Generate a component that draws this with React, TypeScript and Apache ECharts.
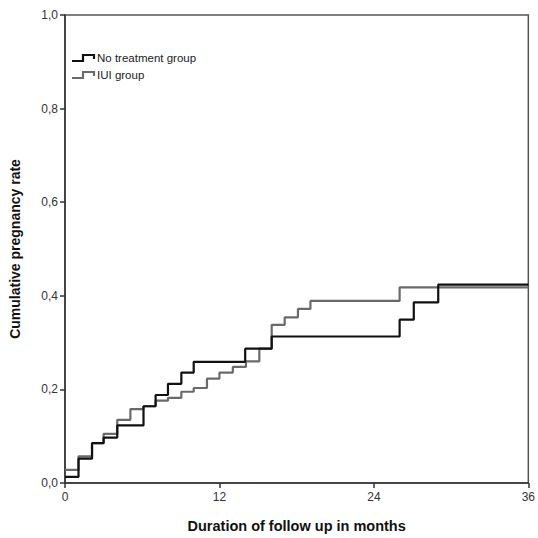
import React, { useEffect, useRef } from "react";
import * as echarts from "echarts";

const xTicks = [0, 12, 24, 36];
const yTicks = [0, 0.2, 0.4, 0.6, 0.8, 1.0];

const noTreatmentTimes = [0, 1.05, 2.1, 3.0, 4.06, 6.1, 7.04, 8.0, 9.04, 10.0, 14.0, 16.06, 26.0, 27.1, 29.0, 36];
const noTreatmentRates = [0.013, 0.052, 0.085, 0.097, 0.123, 0.164, 0.188, 0.212, 0.236, 0.259, 0.287, 0.313, 0.349, 0.386, 0.424, 0.424];

const iuiTimes = [0, 1.05, 2.1, 3.0, 4.06, 5.08, 6.1, 7.04, 8.0, 9.04, 10.0, 11.03, 12.0, 13.04, 14.06, 15.1, 16.06, 17.07, 18.1, 19.07, 26.0, 36];
const iuiRates = [0.028, 0.057, 0.085, 0.105, 0.135, 0.158, 0.164, 0.176, 0.182, 0.195, 0.203, 0.223, 0.236, 0.248, 0.26, 0.287, 0.338, 0.354, 0.372, 0.389, 0.418, 0.418];

const seriesNames = ["No treatment group", "IUI group"];
const seriesColors = ["#111111", "#6a6a6a"];

const FONT = "'Liberation Sans', Arial, sans-serif";

export default function App() {
  const ref = useRef<HTMLDivElement>(null);
  useEffect(() => {
    if (!ref.current) return;
    const chart = echarts.init(ref.current, undefined, { renderer: "svg" });
    const pair = (t: number[], v: number[]) => t.map((x, i) => [x, v[i]]);
    const legendItem = (i: number, y: number) => [
      {
        type: "polyline",
        shape: { points: [[72, y + 3], [83, y + 3], [83, y - 3], [94, y - 3], [94, y + 1]] },
        style: { stroke: seriesColors[i], lineWidth: 2.2, fill: "none" },
      },
      {
        type: "text",
        x: 97,
        y: y,
        style: {
          text: seriesNames[i],
          font: `11.5px ${FONT}`,
          fill: "#222",
          textVerticalAlign: "middle",
        },
      },
    ];
    chart.setOption({
      animation: false,
      backgroundColor: "#ffffff",
      grid: {
        left: 62,
        right: 6,
        top: 15,
        bottom: 52,
        show: true,
        borderColor: "#555",
        borderWidth: 1.5,
      },
      xAxis: {
        type: "value",
        min: 0,
        max: 36,
        interval: 12,
        name: "Duration of follow up in months",
        nameLocation: "middle",
        nameGap: 35,
        nameTextStyle: { fontFamily: FONT, fontSize: 14.5, fontWeight: "bold", color: "#111" },
        axisLine: { lineStyle: { color: "#333", width: 1.5 } },
        axisTick: { show: true, length: 5, inside: false, lineStyle: { color: "#333", width: 1.5 } },
        axisLabel: {
          fontFamily: FONT,
          fontSize: 12,
          color: "#333",
          margin: 8,
          formatter: (v: number) => (xTicks.includes(v) ? String(v) : ""),
        },
        splitLine: { show: false },
      },
      yAxis: {
        type: "value",
        min: 0,
        max: 1,
        interval: 0.2,
        name: "Cumulative pregnancy rate",
        nameLocation: "middle",
        nameGap: 43,
        nameTextStyle: { fontFamily: FONT, fontSize: 14, fontWeight: "bold", color: "#111" },
        axisLine: { show: true, lineStyle: { color: "#333", width: 1.5 } },
        axisTick: { show: true, length: 5, lineStyle: { color: "#333", width: 1.5 } },
        axisLabel: {
          fontFamily: FONT,
          fontSize: 12,
          color: "#333",
          margin: 7,
          formatter: (v: number) => {
            const t = yTicks.find((y) => Math.abs(y - v) < 1e-9);
            return t === undefined ? "" : t.toFixed(1).replace(".", ",");
          },
        },
        splitLine: { show: false },
      },
      series: [
        {
          name: seriesNames[1],
          type: "line",
          step: "end",
          symbol: "none",
          data: pair(iuiTimes, iuiRates),
          lineStyle: { color: seriesColors[1], width: 2.2 },
          z: 2,
        },
        {
          name: seriesNames[0],
          type: "line",
          step: "end",
          symbol: "none",
          data: pair(noTreatmentTimes, noTreatmentRates),
          lineStyle: { color: seriesColors[0], width: 2.2 },
          z: 3,
        },
      ],
      graphic: [...legendItem(0, 58), ...legendItem(1, 75)],
    });
    return () => chart.dispose();
  }, []);
  return <div ref={ref} style={{ width: 538, height: 538, position: "absolute", left: 0, top: 0 }} />;
}
